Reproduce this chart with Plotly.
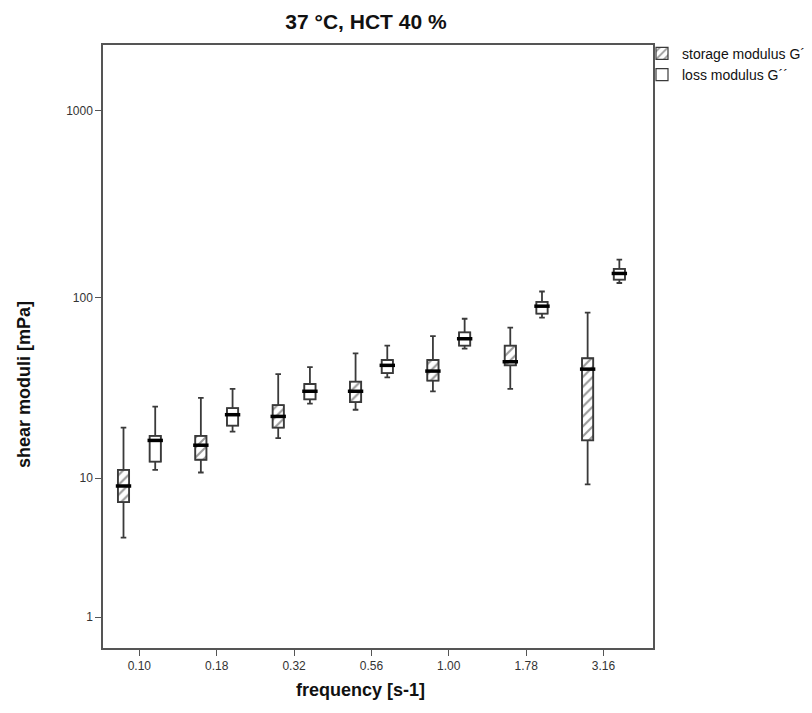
import math
import plotly.graph_objects as go

frequencies = ["0.10", "0.18", "0.32", "0.56", "1.00", "1.78", "3.16"]

# storage modulus G' (box statistics, mPa)
gs_low = [4.3, 10.8, 17.0, 24.5, 31.0, 32.0, 9.2]
gs_q1 = [7.2, 12.8, 19.5, 27.0, 35.5, 43.0, 16.5]
gs_med = [9.0, 15.5, 22.5, 31.0, 40.0, 45.0, 41.0]
gs_q3 = [11.2, 17.5, 26.0, 35.0, 46.0, 55.0, 47.0]
gs_high = [19.5, 28.5, 38.5, 50.0, 62.0, 69.0, 83.0]

# loss modulus G'' (box statistics, mPa)
gl_low = [11.2, 18.5, 26.5, 37.0, 53.0, 78.0, 120.0]
gl_q1 = [12.5, 20.0, 28.0, 39.0, 55.0, 82.0, 125.0]
gl_med = [16.5, 23.0, 31.0, 43.0, 60.0, 90.0, 135.0]
gl_q3 = [17.5, 25.0, 34.0, 46.0, 65.0, 95.0, 143.0]
gl_high = [25.5, 32.0, 42.0, 55.0, 77.0, 108.0, 160.0]

y_ticks = [1, 10, 100, 1000]


def safelog(vals):
    """SPSS 'safe log' scale: log10(1 + v)."""
    return [math.log10(1 + v) for v in vals]


idx = list(range(len(frequencies)))
OFF = 0.205
BW = 0.145
xs = [i - OFF for i in idx]
xl = [i + OFF for i in idx]

FONT = "Liberation Sans, Arial, sans-serif"
EDGE = "#3a3a3a"

W, H = 804, 705  # page body has an 8px margin in the 812x713 window
ML, MR, MT, MB = 95, 159, 37, 65
PW, PH = W - ML - MR, H - MT - MB

fig = go.Figure()

s_q1, s_q3 = safelog(gs_q1), safelog(gs_q3)
l_q1, l_q3 = safelog(gl_q1), safelog(gl_q3)
fig.add_trace(go.Bar(
    x=xs, base=s_q1, y=[b - a for a, b in zip(s_q1, s_q3)], width=BW,
    name="storage modulus G´",
    marker=dict(color="white", line=dict(color=EDGE, width=1.2),
                pattern=dict(shape="/", fgcolor="#333333", bgcolor="white",
                             size=7, solidity=0.3)),
    hoverinfo="skip",
))
fig.add_trace(go.Bar(
    x=xl, base=l_q1, y=[b - a for a, b in zip(l_q1, l_q3)], width=BW,
    name="loss modulus G´´",
    marker=dict(color="white", line=dict(color=EDGE, width=1.2)),
    hoverinfo="skip",
))

for xv, lo, q1, md, q3, hi in [(xs, gs_low, gs_q1, gs_med, gs_q3, gs_high),
                               (xl, gl_low, gl_q1, gl_med, gl_q3, gl_high)]:
    fig.add_trace(go.Box(
        x=xv, lowerfence=safelog(lo), q1=safelog(q1), median=safelog(md),
        q3=safelog(q3), upperfence=safelog(hi),
        width=BW, whiskerwidth=0.5, fillcolor="rgba(0,0,0,0)",
        line=dict(color=EDGE, width=1.8), showlegend=False, hoverinfo="skip",
    ))
    fig.add_trace(go.Scatter(
        x=xv, y=safelog(md), mode="markers", showlegend=False, hoverinfo="skip",
        marker=dict(symbol="line-ew", size=11, line=dict(color="black", width=3.5)),
    ))

fig.update_layout(
    width=W, height=H,
    margin=dict(l=ML, r=MR, t=MT, b=MB, autoexpand=False),
    paper_bgcolor="white", plot_bgcolor="white",
    barmode="overlay",
    font=dict(family=FONT, size=12, color="#222"),
    title=dict(text="<b>37 °C, HCT 40 %</b>", x=358 / W, xanchor="center",
               y=1 - 14 / H, yanchor="middle", font=dict(size=21, color="#111")),
    legend=dict(x=(634 - ML) / PW, xanchor="left", y=1.012, yanchor="top",
                font=dict(size=14, color="#111"), tracegroupgap=0,
                itemwidth=30, bgcolor="rgba(0,0,0,0)"),
    showlegend=True,
    annotations=[
        dict(text="<b>frequency [s-1]</b>", xref="paper", yref="paper",
             x=(352 - ML) / PW, y=(H - MB - 682) / PH, xanchor="center", yanchor="middle",
             showarrow=False, font=dict(size=18, color="#111")),
        dict(text="<b>shear moduli [mPa]</b>", xref="paper", yref="paper",
             x=(16 - ML) / PW, y=(H - MB - 377) / PH, xanchor="center", yanchor="middle",
             textangle=-90, showarrow=False, font=dict(size=18, color="#111")),
    ],
)

fig.update_xaxes(
    range=[-0.47, 6.64], tickmode="array", tickvals=idx, ticktext=frequencies,
    showline=True, linecolor="#555", linewidth=1.5, mirror=True,
    ticks="outside", ticklen=6, tickcolor="#555", showgrid=False, zeroline=False,
    tickfont=dict(size=12, color="#333"), automargin=False,
)
fig.update_yaxes(
    range=[0.136, 3.352], tickmode="array", tickvals=safelog(y_ticks),
    ticktext=[str(t) for t in y_ticks],
    showline=True, linecolor="#555", linewidth=1.5, mirror=True,
    ticks="outside", ticklen=6, tickcolor="#555", showgrid=False, zeroline=False,
    tickfont=dict(size=12, color="#333"), automargin=False,
)

fig.write_html("out.html")
